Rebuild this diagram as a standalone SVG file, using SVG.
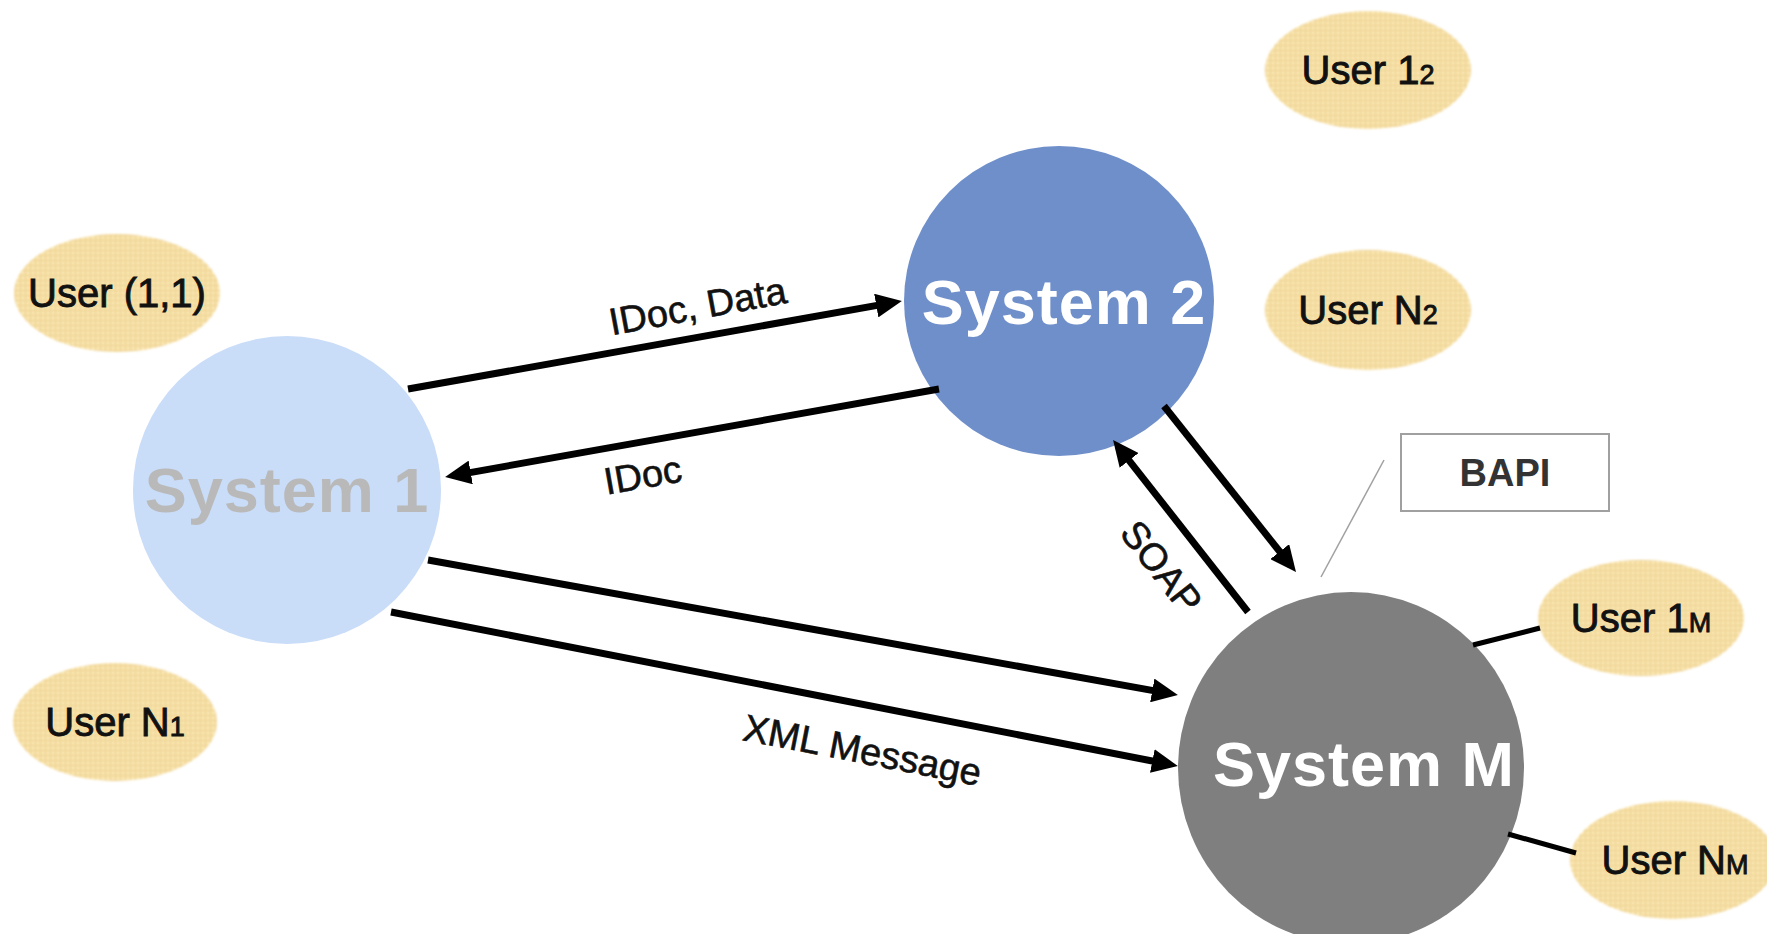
<svg xmlns="http://www.w3.org/2000/svg" width="1767" height="934" viewBox="0 0 1767 934">
  <defs>
    <!-- fine checkered texture for the user ovals -->
    <pattern id="userGrid" width="5" height="5" patternUnits="userSpaceOnUse">
      <rect width="5" height="5" fill="#f9e6b0"/>
      <path d="M0,0.5 H5 M0.5,0 V5" stroke="#eccd8a" stroke-width="1"/>
    </pattern>
    <filter id="soft" x="-5%" y="-5%" width="110%" height="110%">
      <feGaussianBlur stdDeviation="1.2"/>
    </filter>
    <marker id="arrow" markerUnits="userSpaceOnUse" markerWidth="26" markerHeight="24" viewBox="0 0 26 24" refX="18" refY="12" orient="auto">
      <path d="M0,0 L26,12 L0,24 z" fill="#000"/>
    </marker>
  </defs>
  <style>
    .user ellipse { fill: url(#userGrid); filter: url(#soft); }
    .user text { font-family: "Liberation Sans", Arial, sans-serif; font-size: 40px; fill: #111; stroke: #111; stroke-width: 0.9px; text-anchor: middle; }
    .user .sub { font-size: 27px; }
    .sys text { font-family: "Liberation Sans", Arial, sans-serif; font-weight: bold; font-size: 63px; text-anchor: middle; letter-spacing: 1px; }
    .flow { stroke: #000; stroke-width: 7; fill: none; marker-end: url(#arrow); }
    .link { stroke: #000; stroke-width: 5; fill: none; }
    .label { font-family: "Liberation Sans", Arial, sans-serif; font-size: 38px; fill: #111; stroke: #111; stroke-width: 0.6px; text-anchor: middle; }
  </style>

  <rect width="1767" height="934" fill="#ffffff"/>

  <!-- systems -->
  <g id="system1" class="sys">
    <circle cx="287" cy="490" r="154" fill="#c9dcf8"/>
    <text x="287" y="512" fill="#b9b9b9">System 1</text>
  </g>
  <g id="system2" class="sys">
    <circle cx="1059" cy="301" r="155" fill="#6f8fca"/>
    <text x="1064" y="324" fill="#ffffff">System 2</text>
  </g>
  <g id="systemM" class="sys">
    <ellipse cx="1351" cy="768" rx="173" ry="176" fill="#7f7f7f"/>
    <text x="1364" y="786" fill="#ffffff">System M</text>
  </g>

  <!-- users -->
  <g id="user-1-1" class="user">
    <ellipse cx="117" cy="293" rx="103" ry="59"/>
    <text x="117" y="307">User (1,1)</text>
  </g>
  <g id="user-n-1" class="user">
    <ellipse cx="115" cy="722" rx="102" ry="59"/>
    <text x="115" y="736">User N<tspan class="sub">1</tspan></text>
  </g>
  <g id="user-1-2" class="user">
    <ellipse cx="1368" cy="70" rx="103" ry="59"/>
    <text x="1368" y="84">User 1<tspan class="sub">2</tspan></text>
  </g>
  <g id="user-n-2" class="user">
    <ellipse cx="1368" cy="310" rx="103" ry="60"/>
    <text x="1368" y="324">User N<tspan class="sub">2</tspan></text>
  </g>
  <g id="user-1-m" class="user">
    <ellipse cx="1641" cy="618" rx="103" ry="58"/>
    <text x="1641" y="632">User 1<tspan class="sub">M</tspan></text>
  </g>
  <g id="user-n-m" class="user">
    <ellipse cx="1673" cy="860" rx="103" ry="59"/>
    <text x="1675" y="874">User N<tspan class="sub">M</tspan></text>
  </g>

  <!-- BAPI note -->
  <g id="bapi">
    <rect x="1401" y="434" width="208" height="77" fill="#ffffff" stroke="#a0a0a0" stroke-width="2"/>
    <text x="1505" y="486" font-family="Liberation Sans, Arial, sans-serif" font-weight="bold" font-size="38" fill="#333" text-anchor="middle">BAPI</text>
  </g>

  <!-- connectors -->
  <g id="connectors">
    <line class="flow" x1="408" y1="389" x2="894" y2="302.4"/>
    <line class="flow" x1="939" y1="389" x2="453" y2="475.6"/>
    <line class="flow" x1="1164" y1="406" x2="1291" y2="565.7"/>
    <line class="flow" x1="1248" y1="612" x2="1118" y2="446.3"/>
    <line class="flow" x1="428" y1="560" x2="1170" y2="693.6"/>
    <line class="flow" x1="391" y1="612" x2="1170" y2="764.5"/>
    <line class="link" x1="1473" y1="645" x2="1540" y2="628"/>
    <line class="link" x1="1508" y1="834" x2="1576" y2="853"/>
    <line x1="1384" y1="460" x2="1321" y2="577" stroke="#a0a0a0" stroke-width="1.5"/>

    <text class="label" transform="translate(700,319) rotate(-10.5)">IDoc, Data</text>
    <text class="label" transform="translate(645,488) rotate(-10)">IDoc</text>
    <text class="label" transform="translate(860,763) rotate(11)">XML Message</text>
    <text class="label" transform="translate(1151,575) rotate(52)">SOAP</text>
  </g>
</svg>
